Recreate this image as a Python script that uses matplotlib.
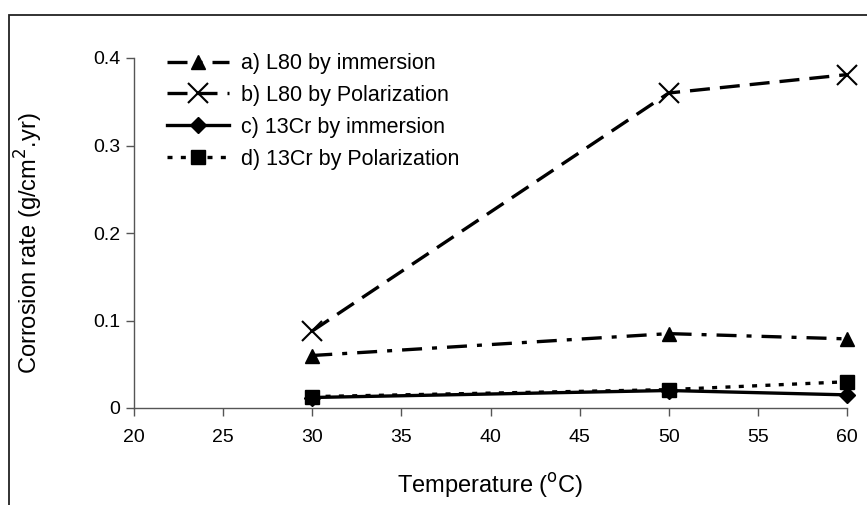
import matplotlib
matplotlib.use("Agg")
import matplotlib.pyplot as plt
from matplotlib.patches import Rectangle

plt.rcParams['font.family'] = ['Liberation Sans', 'DejaVu Sans']

temps = [30, 50, 60]
l80_imm = [0.060, 0.085, 0.079]
l80_pol = [0.088, 0.360, 0.381]
cr_imm = [0.012, 0.020, 0.015]
cr_pol = [0.013, 0.021, 0.030]
labels = ["a) L80 by immersion", "b) L80 by Polarization",
          "c) 13Cr by immersion", "d) 13Cr by Polarization"]
xticks = [20, 25, 30, 35, 40, 45, 50, 55, 60]
yticks = [0, 0.1, 0.2, 0.3, 0.4]
ytick_labels = ["0", "0.1", "0.2", "0.3", "0.4"]

fig = plt.figure(figsize=(8.67, 5.05), dpi=100)
fig.patches.append(Rectangle((9/867, -0.1), 1.1, 1 - 15/505 + 0.1, transform=fig.transFigure,
                             fill=False, edgecolor='#222222', linewidth=1.3))
ax = fig.add_axes([134/867, 1 - 408/505, (847 - 134)/867, (408 - 58)/505])

ax.plot(temps, l80_imm, color='black', lw=2.4, linestyle=(0, (6, 3, 1.5, 3)),
        marker='^', markersize=10, label=labels[0], clip_on=False)
ax.plot(temps, l80_pol, color='black', lw=2.4, linestyle=(0, (6, 3)),
        marker='x', markersize=14, markeredgewidth=1.5, label=labels[1], clip_on=False)
ax.plot(temps, cr_imm, color='black', lw=2.4, linestyle='-',
        marker='D', markersize=8, label=labels[2], clip_on=False)
ax.plot(temps, cr_pol, color='black', lw=2.4, linestyle=(0, (1.5, 2.5)),
        marker='s', markersize=10, label=labels[3], clip_on=False)

ax.set_xlim(20, 60)
ax.set_ylim(0, 0.4)
ax.set_xticks(xticks)
ax.set_yticks(yticks)
ax.set_yticklabels(ytick_labels)
for s in ['top', 'right']:
    ax.spines[s].set_visible(False)
for s in ['left', 'bottom']:
    ax.spines[s].set_color('#555555')
    ax.spines[s].set_linewidth(1.0)
ax.tick_params(axis='both', direction='out', length=6, width=1, colors='#555555',
               labelcolor='black', labelsize=14)
ax.tick_params(axis='x', pad=9)
ax.tick_params(axis='y', pad=4)

ax.set_xlabel("Temperature ($^{\\mathrm{o}}$C)", fontsize=17)
ax.set_ylabel("Corrosion rate (g/cm$^{2}$.yr)", fontsize=17)
ax.xaxis.set_label_coords(0.5, -0.18)
ax.yaxis.set_label_coords(-0.125, 0.47)

ax.legend(loc='upper left', bbox_to_anchor=(0.019, 1.069), frameon=False,
          fontsize=15.5, handlelength=2.9, handletextpad=0.55, labelspacing=0.5,
          borderpad=0.4)

fig.savefig("out.png", dpi=100)
